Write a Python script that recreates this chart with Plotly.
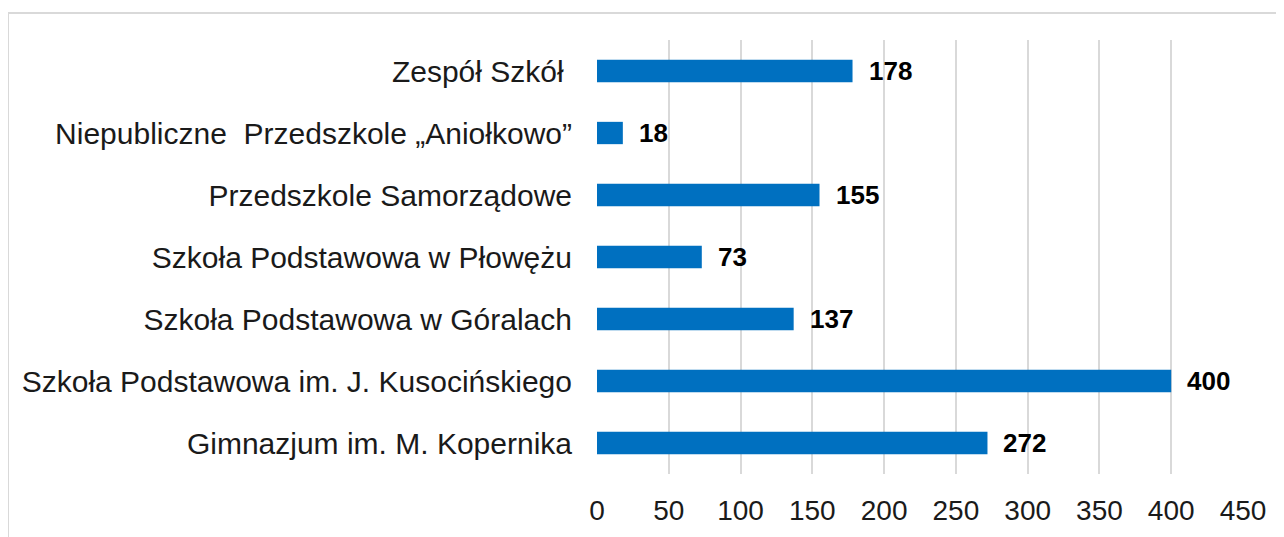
import plotly.graph_objects as go

categories = [
    "Zespół Szkół\u00a0",
    "Niepubliczne  Przedszkole „Aniołkowo”",
    "Przedszkole Samorządowe",
    "Szkoła Podstawowa w Płowężu",
    "Szkoła Podstawowa w Góralach",
    "Szkoła Podstawowa im. J. Kusocińskiego",
    "Gimnazjum im. M. Kopernika",
]
values = [178, 18, 155, 73, 137, 400, 272]
x_ticks = [0, 50, 100, 150, 200, 250, 300, 350, 400, 450]

# page body has an 8px margin; compensate so the plot lands where the reference has it
OFF = 8
W, H = 1284, 537
L, R, T, B = 597 - OFF, 41 + OFF, 40 - OFF, 63 + OFF
pw, ph = W - L - R, H - T - B

fig = go.Figure(go.Bar(
    y=categories, x=values, orientation="h",
    marker=dict(color="#0070C0", line=dict(width=0)),
    width=0.36,
))

for c, v in zip(categories, values):
    fig.add_annotation(x=v, y=c, text=f"<b>{v}</b>", showarrow=False,
                       xanchor="left", xshift=14,
                       font=dict(family="Liberation Sans, Arial", size=26, color="#000000"))

def px_to_paper_x(px):
    return (px - L) / pw

def px_to_paper_y(py):
    return (H - B - py) / ph

fig.add_shape(type="rect", xref="paper", yref="paper",
              x0=px_to_paper_x(0), x1=px_to_paper_x(W + 20),
              y0=px_to_paper_y(H + 20), y1=px_to_paper_y(13 - OFF),
              line=dict(color="#D9D9D9", width=2), layer="below")

fig.update_layout(
    width=W, height=H,
    margin=dict(l=L, r=R, t=T, b=B, pad=0),
    paper_bgcolor="white", plot_bgcolor="white",
    showlegend=False,
    font=dict(family="Liberation Sans, Arial", size=30, color="#1a1a1a"),
    xaxis=dict(range=[0, 450], tickvals=x_ticks, showgrid=True,
               gridcolor="#D9D9D9", gridwidth=1.5, zeroline=False,
               showline=False, ticks="", ticklabelstandoff=17,
               tickfont=dict(size=28)),
    yaxis=dict(autorange="reversed", showgrid=False, showline=False,
               ticks="", ticklabelstandoff=24, tickfont=dict(size=30),
               range=[-0.5, 6.5]),
)

fig.write_html("out.html")
